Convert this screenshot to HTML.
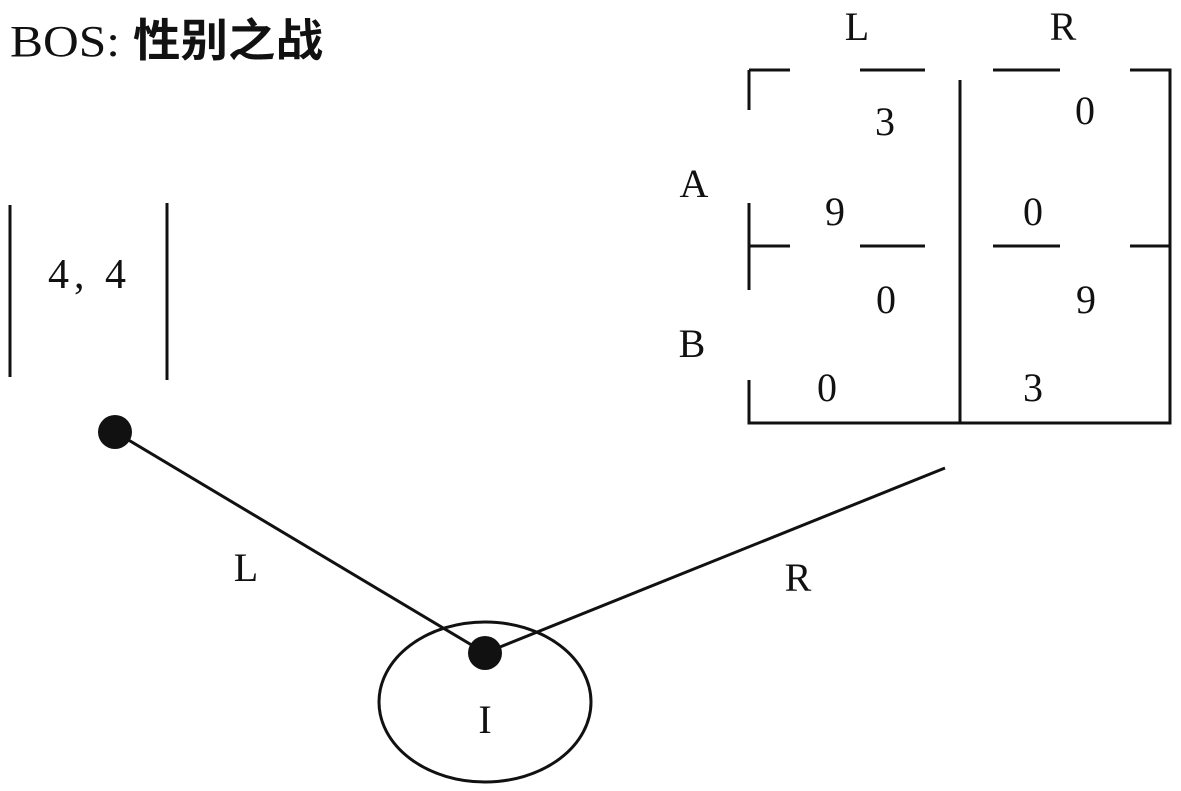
<!DOCTYPE html>
<html><head><style>html,body{margin:0;padding:0;background:#fff}</style></head><body>
<svg width="1181" height="791" xmlns="http://www.w3.org/2000/svg" style="display:block">
<g font-family="Liberation Serif, serif" font-size="40" fill="#111" text-anchor="middle">
<text x="10" y="56" text-anchor="start" font-size="44" textLength="110" lengthAdjust="spacingAndGlyphs">BOS:</text>
<text x="133" y="56" text-anchor="start" font-family="Noto Sans CJK SC, sans-serif" font-weight="bold" font-size="45" textLength="190" lengthAdjust="spacingAndGlyphs">性别之战</text>
<text x="857" y="40">L</text><text x="1063" y="40">R</text>
<text x="694" y="197">A</text><text x="692" y="357">B</text>
<text x="885" y="135">3</text><text x="1085" y="124">0</text>
<text x="835" y="225">9</text><text x="1033" y="225">0</text>
<text x="886" y="313">0</text><text x="1086" y="313">9</text>
<text x="827" y="401">0</text><text x="1033" y="401">3</text>
<text x="87" y="288" font-size="42" textLength="78" lengthAdjust="spacing">4, 4</text>
<text x="246" y="581">L</text><text x="798" y="591">R</text>
<text x="485" y="733">I</text>
</g>
<g stroke="#111" stroke-width="3" fill="none">
<path d="M749 70H790M860 70H925M993 70H1060M1130 70H1170V423H749V380M749 290V203M749 110V70"/>
<path d="M749 246H790M860 246H925M993 246H1060M1130 246H1170"/>
<path d="M960 80V423"/>
<path d="M10 205V377M167 203V380"/>
<path d="M115 432L485 653L945 468"/>
<ellipse cx="485" cy="702" rx="106" ry="80"/>
</g>
<circle cx="115" cy="432" r="17" fill="#111"/>
<circle cx="485" cy="653" r="17" fill="#111"/>
</svg>
</body></html>
